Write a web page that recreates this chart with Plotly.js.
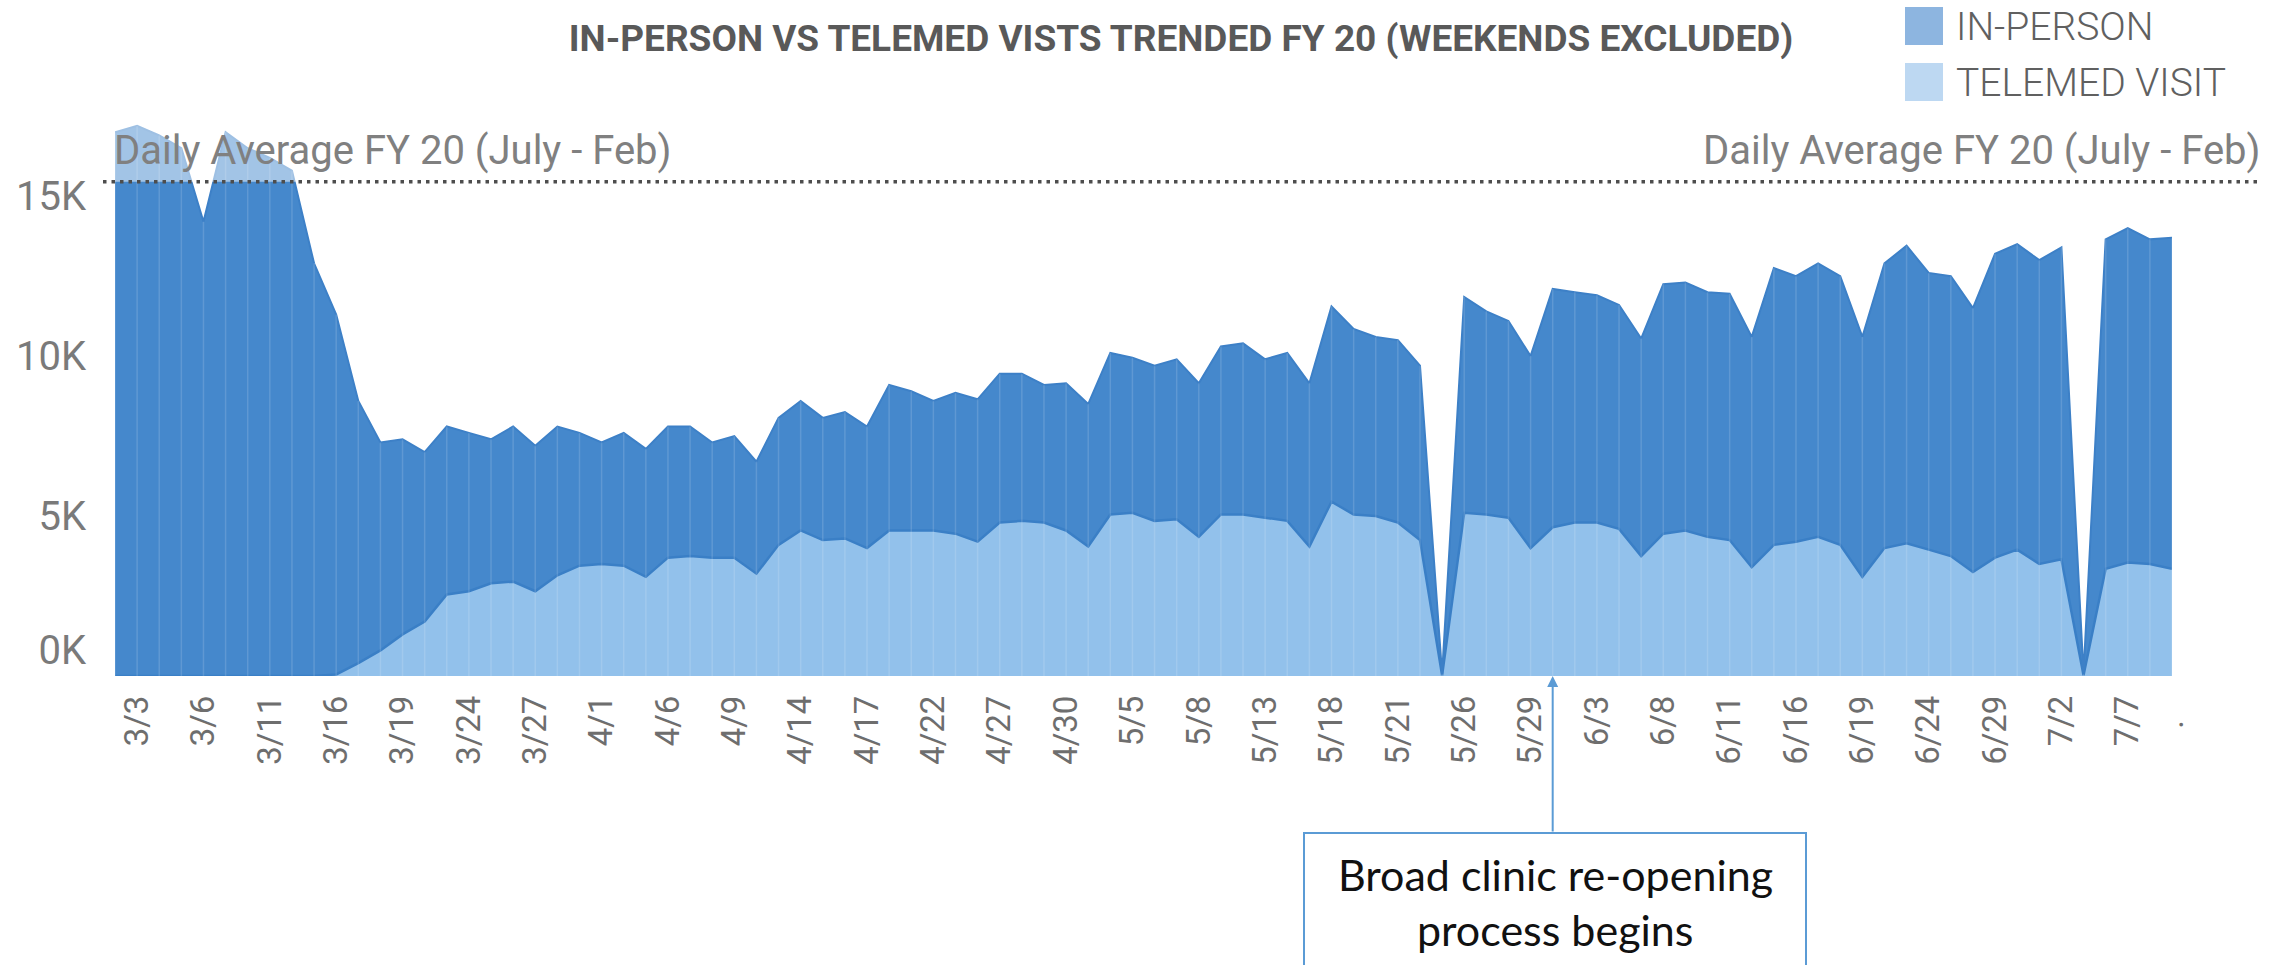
<!DOCTYPE html>
<html>
<head>
<meta charset="utf-8">
<script src="https://cdn.plot.ly/plotly-3.0.1.min.js"></script>
<style>
html,body{margin:0;padding:0;background:#fff;}
#chart{width:2289px;height:965px;}
</style>
</head>
<body>
<div id="chart"></div>
<script>
// ---------- DATA ----------
const dates = [
 '3/2','3/3','3/4','3/5','3/6','3/9','3/10','3/11','3/12','3/13',
 '3/16','3/17','3/18','3/19','3/20','3/23','3/24','3/25','3/26','3/27',
 '3/30','3/31','4/1','4/2','4/3','4/6','4/7','4/8','4/9','4/10',
 '4/13','4/14','4/15','4/16','4/17','4/20','4/21','4/22','4/23','4/24',
 '4/27','4/28','4/29','4/30','5/1','5/4','5/5','5/6','5/7','5/8',
 '5/11','5/12','5/13','5/14','5/15','5/18','5/19','5/20','5/21','5/22',
 '5/25','5/26','5/27','5/28','5/29','6/1','6/2','6/3','6/4','6/5',
 '6/8','6/9','6/10','6/11','6/12','6/15','6/16','6/17','6/18','6/19',
 '6/22','6/23','6/24','6/25','6/26','6/29','6/30','7/1','7/2','7/3',
 '7/6','7/7','7/8','7/9'
];
const inPerson = [
 17000,17200,16900,16500,14200,17000,16500,16200,15800,12900,
 11250,8200,6500,6100,5300,5250,4950,4500,4850,4550,
 4650,4150,3800,4150,4000,4100,4050,3600,3800,3500,
 3970,4050,3820,3950,3800,4550,4350,4050,4400,4450,
 4650,4600,4300,4600,4450,5050,4850,4850,5000,4800,
 5250,5350,4950,5250,5100,6100,5800,5600,5700,5450,
 40,6750,6350,6150,6000,7450,7200,7100,7000,6800,
 7800,7750,7650,7700,7200,8650,8300,8550,8400,7500,
 8900,9300,8650,8750,8250,9500,9550,9500,9750,40,
 10300,10450,10150,10350
];
const telemed = [
 0,0,0,0,0,0,0,0,0,0,
 50,400,800,1300,1700,2550,2650,2900,2950,2650,
 3150,3450,3500,3450,3100,3700,3750,3700,3700,3200,
 4100,4550,4250,4300,4000,4550,4550,4550,4450,4200,
 4800,4850,4800,4550,4050,5050,5100,4850,4900,4350,
 5050,5050,4950,4850,4050,5450,5050,5000,4800,4250,
 20,5100,5050,4950,4000,4650,4800,4800,4600,3750,
 4450,4550,4350,4250,3400,4100,4200,4350,4100,3100,
 4000,4150,3950,3750,3250,3700,3950,3500,3650,20,
 3350,3550,3500,3350
];
const xTickVals = ['3/3','3/6','3/11','3/16','3/19','3/24','3/27','4/1','4/6','4/9',
 '4/14','4/17','4/22','4/27','4/30','5/5','5/8','5/13','5/18','5/21',
 '5/26','5/29','6/3','6/8','6/11','6/16','6/19','6/24','6/29','7/2','7/7','7/9'];
const xTickText = ['3/3','3/6','3/11','3/16','3/19','3/24','3/27','4/1','4/6','4/9',
 '4/14','4/17','4/22','4/27','4/30','5/5','5/8','5/13','5/18','5/21',
 '5/26','5/29','6/3','6/8','6/11','6/16','6/19','6/24','6/29','7/2','7/7','.\u00a0\u00a0\u00a0'];
const yTickVals = [0, 5000, 10000, 15000];
const yTickText = ['0K<br>\u00a0', '5K', '10K', '15K'];
const dailyAverageFY20 = 15450;
const yMax = 17600;
const reopeningDate = '6/1';

const seriesNames = ['IN-PERSON', 'TELEMED VISIT'];
const titleText = 'IN-PERSON VS TELEMED VISTS TRENDED FY 20 (WEEKENDS EXCLUDED)';
const refLabel = 'Daily Average FY 20 (July - Feb)';
const noteLines = ['Broad clinic re-opening', 'process begins'];

// ---------- LAYOUT HELPERS ----------
const W = 2289, H = 965;
const M = {l: 115, r: 117, t: 113, b: 289};
const plotW = W - M.l - M.r, plotH = H - M.t - M.b;
const pxX = x => (x - M.l) / plotW;
const pxY = y => (H - M.b - y) / plotH;

const DARK = '#4588cc', LIGHT = '#92c1eb';
const totals = inPerson.map((v, i) => v + telemed[i]);

// vertical separators at each data point
const vx = [], vy = [];
dates.forEach((d, i) => { vx.push(d, d, null); vy.push(0, totals[i], null); });

const traces = [
  {
    x: dates, y: telemed, name: seriesNames[1], type: 'scatter', mode: 'lines',
    stackgroup: 'one', fillcolor: LIGHT,
    line: {color: '#3a7fc6', width: 2.5, shape: 'linear'},
    hoverinfo: 'skip', showlegend: false
  },
  {
    x: dates, y: inPerson, name: seriesNames[0], type: 'scatter', mode: 'lines',
    stackgroup: 'one', fillcolor: DARK,
    line: {color: '#3d80c7', width: 2, shape: 'linear'},
    hoverinfo: 'skip', showlegend: false
  },
  {
    x: vx, y: vy, type: 'scatter', mode: 'lines',
    line: {color: 'rgba(255,255,255,0.14)', width: 1.5},
    hoverinfo: 'skip', showlegend: false
  }
];

const layout = {
  width: W, height: H,
  margin: M,
  paper_bgcolor: '#ffffff', plot_bgcolor: '#ffffff',
  font: {family: 'Roboto, sans-serif', color: '#666'},
  showlegend: false,
  title: {
    text: '<b>' + titleText + '</b>',
    xref: 'container', yref: 'container',
    x: 1181 / W, xanchor: 'center',
    y: 1 - 38 / H, yanchor: 'middle',
    font: {family: 'Roboto, sans-serif', size: 37, color: '#595959'}
  },
  xaxis: {
    type: 'category', categoryorder: 'array', categoryarray: dates,
    range: [0, dates.length - 1],
    tickmode: 'array', tickvals: xTickVals, ticktext: xTickText,
    tickangle: -90, ticks: '', showgrid: false, zeroline: false,
    showline: false, ticklabelstandoff: 12,
    tickfont: {family: 'Roboto, sans-serif', size: 33, color: '#6e6e6e'},
    fixedrange: true
  },
  yaxis: {
    range: [0, yMax],
    tickmode: 'array', tickvals: yTickVals, ticktext: yTickText,
    ticks: '', showgrid: false, zeroline: false, showline: false,
    ticklabelstandoff: 28,
    tickfont: {family: 'Roboto, sans-serif', size: 40, color: '#7a7a7a'},
    fixedrange: true
  },
  shapes: [
    // lightened region above the reference line
    {type: 'rect', xref: 'paper', yref: 'y', x0: 0, x1: 1, y0: dailyAverageFY20, y1: yMax,
     fillcolor: 'rgba(255,255,255,0.5)', line: {width: 0}, layer: 'above'},
    // reference line
    {type: 'line', xref: 'paper', yref: 'y', x0: pxX(103), x1: pxX(2260),
     y0: dailyAverageFY20, y1: dailyAverageFY20,
     line: {color: '#4d4d4d', width: 3.5, dash: '3.5px,5px'}, layer: 'above'},
    // legend swatches
    {type: 'rect', xref: 'paper', yref: 'paper', x0: pxX(1905), x1: pxX(1943), y0: pxY(45), y1: pxY(7),
     fillcolor: '#8db5e0', line: {width: 0}},
    {type: 'rect', xref: 'paper', yref: 'paper', x0: pxX(1905), x1: pxX(1943), y0: pxY(101), y1: pxY(63),
     fillcolor: '#bdd8f2', line: {width: 0}},
    // callout box
    {type: 'rect', xref: 'paper', yref: 'paper', x0: pxX(1304), x1: pxX(1806), y0: pxY(985), y1: pxY(833),
     fillcolor: '#ffffff', line: {color: '#5b9bd5', width: 2}}
  ],
  annotations: [
    {xref: 'paper', yref: 'paper', x: pxX(112), y: pxY(150), xanchor: 'left', yanchor: 'middle',
     text: refLabel, showarrow: false, font: {family: 'Roboto, sans-serif', size: 40, color: '#808080'}},
    {xref: 'paper', yref: 'paper', x: pxX(2262), y: pxY(150), xanchor: 'right', yanchor: 'middle',
     text: refLabel, showarrow: false, font: {family: 'Roboto, sans-serif', size: 40, color: '#808080'}},
    {xref: 'paper', yref: 'paper', x: pxX(1954), y: pxY(27), xanchor: 'left', yanchor: 'middle',
     text: seriesNames[0], showarrow: false, font: {family: 'Roboto, sans-serif', size: 39, color: '#606060', weight: 300}},
    {xref: 'paper', yref: 'paper', x: pxX(1954), y: pxY(83), xanchor: 'left', yanchor: 'middle',
     text: seriesNames[1], showarrow: false, font: {family: 'Roboto, sans-serif', size: 39, color: '#606060', weight: 300}},
    {xref: 'x', yref: 'y', x: reopeningDate, y: 0, ax: 0, ay: 157, axref: 'pixel', ayref: 'pixel',
     text: '', showarrow: true, arrowhead: 2, arrowsize: 1.1, arrowwidth: 2, arrowcolor: '#5b9bd5', standoff: 0},
    {xref: 'paper', yref: 'paper', x: pxX(1555), y: pxY(874), xanchor: 'center', yanchor: 'middle',
     text: noteLines[0], showarrow: false, font: {family: 'Lato, sans-serif', size: 43, color: '#111'}},
    {xref: 'paper', yref: 'paper', x: pxX(1555), y: pxY(929), xanchor: 'center', yanchor: 'middle',
     text: noteLines[1], showarrow: false, font: {family: 'Lato, sans-serif', size: 43, color: '#111'}}
  ]
};

Plotly.newPlot('chart', traces, layout, {displayModeBar: false, staticPlot: true});
</script>
</body>
</html>
